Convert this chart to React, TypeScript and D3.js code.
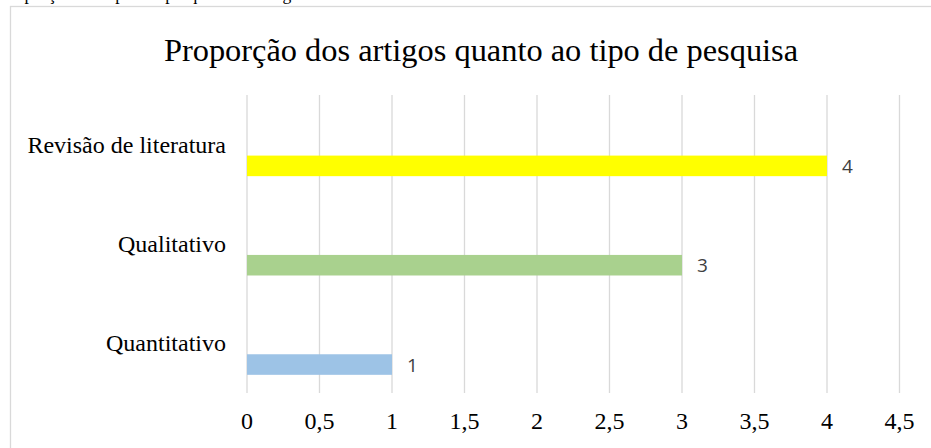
import React from "react";
import * as d3 from "d3";

const categories = ["Revisão de literatura", "Qualitativo", "Quantitativo"];
const values = [4, 3, 1];
const barColors = ["#FFFF00", "#A9D18E", "#9DC3E6"];
const tickValues = [0, 0.5, 1, 1.5, 2, 2.5, 3, 3.5, 4, 4.5];
const title = "Proporção dos artigos quanto ao tipo de pesquisa";
const captionAbove = "Proporção dos tipos de pesquisa dos artigos selecionados";

function App() {
  const width = 931;
  const height = 448;
  const serif = "'Liberation Serif', 'Times New Roman', serif";

  // plot area
  const x = d3.scaleLinear().domain([0, 4.5]).range([247, 899.5]);
  const y = d3.scaleBand().domain(categories).range([95, 393]);
  const bw = y.bandwidth();

  const fmt = (v) => d3.format("")(v).replace(".", ",");

  return (
    <svg
      width={width}
      height={height}
      style={{ position: "absolute", left: 0, top: 0, background: "#fff" }}
    >
      {/* caption of the page, cut off at the top */}
      <text x={0} y={0} fontFamily={serif} fontSize={17.6} fill="#000">
        {captionAbove}
      </text>

      {/* chart frame */}
      <rect
        x={10.5}
        y={6.5}
        width={width + 10}
        height={height + 10}
        fill="#fff"
        stroke="#d9d9d9"
        strokeWidth={1.3}
      />

      <text
        x={481}
        y={61}
        textAnchor="middle"
        fontFamily={serif}
        fontSize={32.4}
        fill="#000"
      >
        {title}
      </text>

      {/* gridlines */}
      {tickValues.map((t) => (
        <line
          key={"g" + t}
          x1={x(t)}
          x2={x(t)}
          y1={95}
          y2={393}
          stroke="#d9d9d9"
          strokeWidth={1.3}
        />
      ))}

      {/* bars */}
      {categories.map((c, i) => (
        <rect
          key={c}
          x={x(0)}
          y={y(c) + bw * 0.61}
          width={x(values[i]) - x(0)}
          height={bw * 0.207}
          fill={barColors[i]}
        />
      ))}

      {/* value labels */}
      {categories.map((c, i) => (
        <text
          key={c + "-v"}
          x={x(values[i]) + 15}
          y={y(c) + bw * 0.715}
          dominantBaseline="central"
          fontFamily="'Open Sans', sans-serif"
          fontSize={19}
          fill="#404040"
        >
          {values[i]}
        </text>
      ))}

      {/* category labels */}
      {categories.map((c) => (
        <text
          key={c + "-y"}
          x={226}
          y={y(c) + bw / 2 + 8}
          textAnchor="end"
          fontFamily={serif}
          fontSize={24}
          fill="#000"
        >
          {c}
        </text>
      ))}

      {/* tick labels */}
      {tickValues.map((t) => (
        <text
          key={"t" + t}
          x={x(t)}
          y={429}
          textAnchor="middle"
          fontFamily={serif}
          fontSize={24}
          fill="#000"
        >
          {fmt(t)}
        </text>
      ))}
    </svg>
  );
}

export default App;
